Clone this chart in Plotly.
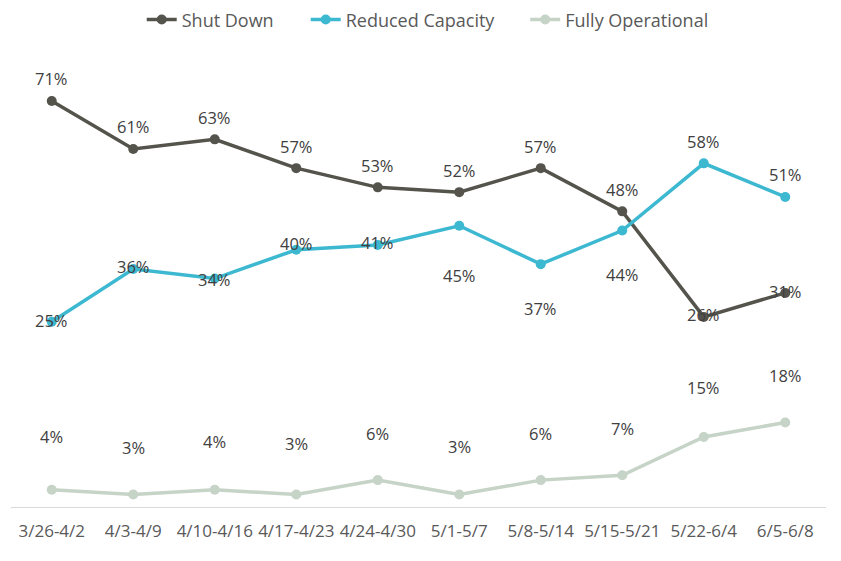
import plotly.graph_objects as go

weeks = ["3/26-4/2", "4/3-4/9", "4/10-4/16", "4/17-4/23", "4/24-4/30",
         "5/1-5/7", "5/8-5/14", "5/15-5/21", "5/22-6/4", "6/5-6/8"]
shut_down = [71, 61, 63, 57, 53, 52, 57, 48, 26, 31]
reduced_capacity = [25, 36, 34, 40, 41, 45, 37, 44, 58, 51]
fully_operational = [4, 3, 4, 3, 6, 3, 6, 7, 15, 18]

# label offsets in pixels (style only)
shut_shift = [22, 22, 22, 22, 22, 22, 22, 22, 2, 1]
reduced_shift = [1, 2, -1, 6, 2, -50, -44, -44, 22, 22]
fully_shift = [53, 47, 48, 51, 47, 48, 47, 47, 49, 47]

dark = "#54544c"
teal = "#3db8d1"
pale = "#c6d3c7"
font = "Open Sans"

fig = go.Figure()
fig.add_trace(go.Scatter(x=weeks, y=shut_down, name="Shut Down", mode="lines+markers",
                         line=dict(color=dark, width=3.5), marker=dict(size=10, color=dark),
                         legend="legend"))
fig.add_trace(go.Scatter(x=weeks, y=reduced_capacity, name="Reduced Capacity", mode="lines+markers",
                         line=dict(color=teal, width=3.5), marker=dict(size=10, color=teal),
                         legend="legend2"))
fig.add_trace(go.Scatter(x=weeks, y=fully_operational, name="Fully Operational", mode="lines+markers",
                         line=dict(color=pale, width=3.5), marker=dict(size=10, color=pale),
                         yaxis="y2", legend="legend3"))

annotations = []
for vals, shifts, yref in [(shut_down, shut_shift, "y"),
                           (reduced_capacity, reduced_shift, "y"),
                           (fully_operational, fully_shift, "y2")]:
    for wk, v, s in zip(weeks, vals, shifts):
        annotations.append(dict(x=wk, y=v, xref="x", yref=yref, text=f"{v}%",
                                showarrow=False, yshift=s,
                                font=dict(family=font, size=16.5, color="#404040")))


def legend_at(xpos):
    return dict(orientation="h", x=xpos, xanchor="left", xref="container",
                y=0.979, yanchor="middle", yref="container",
                font=dict(size=18, color="#595959"), itemwidth=30,
                bgcolor="rgba(0,0,0,0)")


fig.update_layout(
    width=841, height=561,
    margin=dict(l=3, r=23, t=32, b=62, autoexpand=False),
    paper_bgcolor="white", plot_bgcolor="white",
    font=dict(family=font, size=17, color="#595959"),
    showlegend=True,
    legend=legend_at(0.159),
    legend2=legend_at(0.354),
    legend3=legend_at(0.615),
    annotations=annotations,
    xaxis=dict(type="category", range=[-0.5, 9.5], showgrid=False, showline=True,
               linecolor="#d9d9d9", linewidth=1, ticks="", ticklabelstandoff=9,
               automargin=False,
               tickfont=dict(size=17, color="#595959"), zeroline=False),
    yaxis=dict(range=[-13.6, 83.7], visible=False, showgrid=False, zeroline=False),
    yaxis2=dict(range=[0.4, 97.7], overlaying="y", visible=False, showgrid=False, zeroline=False),
)

fig.write_html("out.html")
